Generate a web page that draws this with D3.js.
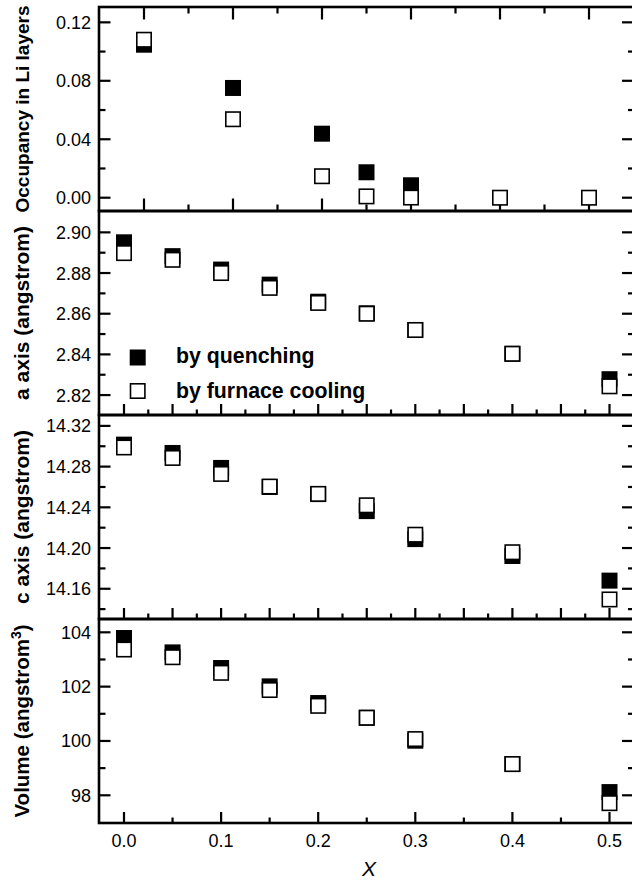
<!DOCTYPE html>
<html><head><meta charset="utf-8">
<script src="https://cdn.jsdelivr.net/npm/d3@7"></script>
<style>
html,body{margin:0;padding:0;background:#fff;}
text{font-family:"Liberation Sans",Arial,Helvetica,sans-serif;fill:#000;}
</style></head>
<body>
<svg id="chart" width="632" height="882"></svg>
<script>
// ---- data ----
const xTop = [0.0, 0.1, 0.2, 0.25, 0.3, 0.4, 0.5];
const occQuench  = [0.1047, 0.0751, 0.0438, 0.0174, 0.0085, null, null];
const occFurnace = [0.1081, 0.0537, 0.0147, 0.0009, 0.0001, 0.0000, 0.0000];

const xMain = [0.0, 0.05, 0.1, 0.15, 0.2, 0.25, 0.3, 0.4, 0.5];
const aQuench  = [2.8951, 2.8883, 2.8817, 2.8743, 2.8659, 2.8602, 2.8520, 2.8403, 2.8278];
const aFurnace = [2.8898, 2.8865, 2.8800, 2.8727, 2.8653, 2.8600, 2.8520, 2.8403, 2.8243];
const cQuench  = [14.3016, 14.2934, 14.2787, 14.2600, 14.2530, 14.2363, 14.2088, 14.1922, 14.1680];
const cFurnace = [14.2988, 14.2885, 14.2728, 14.2604, 14.2532, 14.2420, 14.2131, 14.1959, 14.1495];
const vQuench  = [103.79, 103.26, 102.685, 102.01, 101.396, 100.855, 100.01, 99.15, 98.118];
const vFurnace = [103.367, 103.083, 102.508, 101.875, 101.293, 100.855, 100.07, 99.15, 97.71];

const occTicks = ["0.00", "0.04", "0.08", "0.12"];
const aTicks = ["2.82", "2.84", "2.86", "2.88", "2.90"];
const cTicks = ["14.16", "14.20", "14.24", "14.28", "14.32"];
const vTicks = ["98", "100", "102", "104"];
const xTickLabels = ["0.0", "0.1", "0.2", "0.3", "0.4", "0.5"];

const yLabels = ["Occupancy in Li layers", "a axis (angstrom)", "c axis (angstrom)", "Volume (angstrom"];
const legendLabels = ["by quenching", "by furnace cooling"];
const xTitle = "X";

// ---- layout ----
const svg = d3.select("#chart");
const L = 99, R = 634.5;
const bands = [[7, 211], [211, 415], [415, 619], [619, 823]];
const labelSizes = [19, 21, 21, 20.5];

const xTopScale = d3.scaleLinear().domain([0, 0.5]).range([144, 589]);
const xMainScale = d3.scaleLinear().domain([0, 0.5]).range([124, 609.5]);

const panels = [
  {domain: [-0.0091, 0.1305], major: occTicks.map(Number), minor: [0.02, 0.06, 0.10], labels: occTicks,
   xs: xTopScale, xVals: xTop, q: occQuench, f: occFurnace,
   xMajor: d3.range(0, 0.5001, 0.1), xMinor: d3.range(0.05, 0.5, 0.1), topTicks: true, tickLen: [12.5, 6.5]},
  {domain: [2.8102, 2.9105], major: aTicks.map(Number), minor: [2.83, 2.85, 2.87, 2.89], labels: aTicks,
   xs: xMainScale, xVals: xMain, q: aQuench, f: aFurnace,
   xMajor: d3.range(0, 0.5001, 0.05), xMinor: d3.range(0.025, 0.5, 0.05), topTicks: false, tickLen: [11, 5.5]},
  {domain: [14.1303, 14.3307], major: cTicks.map(Number), minor: [14.14, 14.18, 14.22, 14.26, 14.30], labels: cTicks,
   xs: xMainScale, xVals: xMain, q: cQuench, f: cFurnace,
   xMajor: d3.range(0, 0.5001, 0.05), xMinor: d3.range(0.025, 0.5, 0.05), topTicks: false, tickLen: [11, 5.5]},
  {domain: [96.98, 104.49], major: vTicks.map(Number), minor: [99, 101, 103], labels: vTicks,
   xs: xMainScale, xVals: xMain, q: vQuench, f: vFurnace,
   xMajor: d3.range(0, 0.5001, 0.1), xMinor: d3.range(0.05, 0.5, 0.1), topTicks: false, tickLen: [11, 5.5]}
];

const S = 16; // marker outer size

panels.forEach((p, i) => {
  const [top, bot] = bands[i];
  const y = d3.scaleLinear().domain(p.domain).range([bot, top]);
  const g = svg.append("g");
  const tk = g.append("g").attr("stroke", "#000").attr("stroke-width", 2.2);
  // left & right y ticks
  p.major.forEach(v => {
    tk.append("line").attr("x1", L).attr("x2", L + 11.5).attr("y1", y(v)).attr("y2", y(v));
    tk.append("line").attr("x1", R - 12.5).attr("x2", R).attr("y1", y(v)).attr("y2", y(v));
  });
  p.minor.forEach(v => {
    tk.append("line").attr("x1", L).attr("x2", L + 6.5).attr("y1", y(v)).attr("y2", y(v));
    tk.append("line").attr("x1", R - 6.5).attr("x2", R).attr("y1", y(v)).attr("y2", y(v));
  });
  // x ticks
  const [maj, mn] = p.tickLen;
  p.xMajor.forEach(v => {
    tk.append("line").attr("x1", p.xs(v)).attr("x2", p.xs(v)).attr("y1", bot).attr("y2", bot - maj);
    if (p.topTicks) tk.append("line").attr("x1", p.xs(v)).attr("x2", p.xs(v)).attr("y1", top).attr("y2", top + maj);
  });
  p.xMinor.forEach(v => {
    tk.append("line").attr("x1", p.xs(v)).attr("x2", p.xs(v)).attr("y1", bot).attr("y2", bot - mn);
    if (p.topTicks) tk.append("line").attr("x1", p.xs(v)).attr("x2", p.xs(v)).attr("y1", top).attr("y2", top + mn);
  });
  // y tick labels
  p.major.forEach((v, k) => {
    g.append("text").attr("x", 91).attr("y", y(v)).attr("dy", "0.36em")
      .attr("text-anchor", "end").attr("font-size", 18).text(p.labels[k]);
  });
  // frame
  g.append("rect").attr("x", L).attr("y", top).attr("width", R - L).attr("height", bot - top)
    .attr("fill", "none").attr("stroke", "#000").attr("stroke-width", 2.6);
  // markers: filled first, open (white) on top
  p.xVals.forEach((xv, k) => {
    if (p.q[k] != null) {
      g.append("rect").attr("x", p.xs(xv) - S / 2).attr("y", y(p.q[k]) - S / 2)
        .attr("width", S).attr("height", S).attr("fill", "#000");
    }
  });
  p.xVals.forEach((xv, k) => {
    if (p.f[k] != null) {
      g.append("rect").attr("x", p.xs(xv) - S / 2 + 0.8).attr("y", y(p.f[k]) - S / 2 + 0.8)
        .attr("width", S - 1.6).attr("height", S - 1.6)
        .attr("fill", "#fff").attr("stroke", "#000").attr("stroke-width", 1.6);
    }
  });
  // y label
  const cy = (top + bot) / 2;
  const t = g.append("text").attr("transform", `translate(29,${cy}) rotate(-90)`)
    .attr("text-anchor", "middle").attr("font-size", labelSizes[i]).attr("font-weight", "bold");
  if (i === 3) {
    t.append("tspan").text(yLabels[i]);
    t.append("tspan").attr("font-size", 14).attr("dy", -8).text("3");
    t.append("tspan").attr("dy", 8).text(")");
  } else {
    t.text(yLabels[i]);
  }
});

// x tick labels (bottom panel)
xTickLabels.forEach(s => {
  svg.append("text").attr("x", xMainScale(+s)).attr("y", 846.5)
    .attr("text-anchor", "middle").attr("font-size", 18).text(s);
});
svg.append("text").attr("x", 369).attr("y", 876).attr("text-anchor", "middle")
  .attr("font-size", 21).attr("font-style", "italic").text(xTitle);

// legend
const leg = svg.append("g");
leg.append("rect").attr("x", 137.7 - S / 2).attr("y", 357.5 - S / 2).attr("width", S).attr("height", S).attr("fill", "#000");
leg.append("rect").attr("x", 137.7 - S / 2 + 0.8).attr("y", 391 - S / 2 + 0.8).attr("width", S - 1.6).attr("height", S - 1.6)
  .attr("fill", "#fff").attr("stroke", "#000").attr("stroke-width", 1.6);
leg.append("text").attr("x", 176).attr("y", 362.5).attr("font-size", 21.3).attr("font-weight", "bold").text(legendLabels[0]);
leg.append("text").attr("x", 176).attr("y", 397.7).attr("font-size", 21.3).attr("font-weight", "bold").text(legendLabels[1]);
</script>
</body></html>
